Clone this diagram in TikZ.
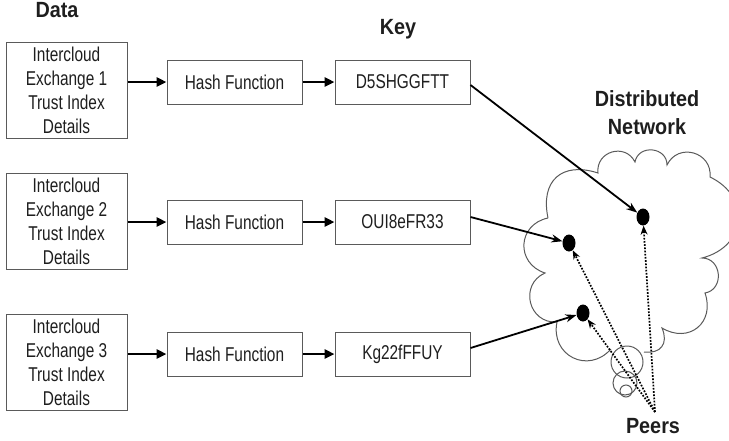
\documentclass[tikz,border=0pt]{standalone}
\usepackage{fontspec}
\setmainfont{Liberation Sans}
\newfontfamily\bodyf[FakeStretch=0.77]{Liberation Sans}
\newfontfamily\titlef[FakeStretch=0.9]{Liberation Sans}
\usetikzlibrary{arrows.meta,shapes.geometric}
\definecolor{boxgray}{HTML}{5A5A5A}
\definecolor{txt}{HTML}{1E1E1E}
\begin{document}
\begin{tikzpicture}[x=1pt,y=-1pt,
  box/.style={draw=boxgray, line width=1pt, rectangle, inner sep=0pt, align=center,
    text=txt, font=\bodyf\fontsize{20}{24}\selectfont},
  databox/.style={box, minimum width=121pt, minimum height=96pt},
  smallbox/.style={box, minimum width=135pt, minimum height=44pt},
  title/.style={text=txt, inner sep=0pt, font=\titlef\bfseries\fontsize{22}{26}\selectfont, anchor=base},
  arr/.style={-{Triangle[length=10pt,width=9pt]}, line width=2.6pt, black},
  darr/.style={-{Stealth[length=11pt,width=8pt]}, line width=1.8pt, black},
  dotarr/.style={-{Stealth[length=9pt,width=7pt]}, line width=1.7pt, black, dash pattern=on 1.7pt off 1.5pt},
  peer/.style={ellipse, fill=black, minimum width=13pt, minimum height=17pt, inner sep=0pt},
  cloudline/.style={draw=boxgray, line width=1pt},
  bump/.style={bend left=#1, looseness=1.45}
]
\useasboundingbox (0,0) rectangle (729,440);

% titles
\node[title] (tdata) at (57,17) {Data};
\node[title] (tkey) at (398,34) {Key};
\node[title] (tdist) at (647,106) {Distributed};
\node[title] (tnet) at (647,134) {Network};
\node[title] (peers) at (653,433) {Peers};

% cloud
\draw[cloudline] (548,218) to[bump=60] (598,173) to[bump=80] (635,162)
  to[bump=85] (667,165) to[bump=80] (710,177) to[bump=70] (702,258)
  to[bump=85] (705,293) to[bump=70] (662,328) to[bump=60] (644,352)
  (611,349) to[bump=75] (557,322) to[bump=80] (545,273) to[bump=75] (548,218);
\draw[cloudline] (627,362) circle (16);
\draw[cloudline] (625,383) circle (12);
\draw[cloudline] (626,391) circle (6);

% boxes
\node[databox] (d1) at (66.5,90) {Intercloud\\Exchange 1\\Trust Index\\Details};
\node[databox] (d2) at (66.5,221.5) {Intercloud\\Exchange 2\\Trust Index\\Details};
\node[databox] (d3) at (66.5,362.5) {Intercloud\\Exchange 3\\Trust Index\\Details};
\node[smallbox] (h1) at (234.5,82) {Hash Function};
\node[smallbox] (h2) at (234.5,222) {Hash Function};
\node[smallbox] (h3) at (234.5,354) {Hash Function};
\node[smallbox] (k1) at (402.5,82) {D5SHGGFTT};
\node[smallbox] (k2) at (402.5,222) {OUI8eFR33};
\node[smallbox] (k3) at (402.5,354) {Kg22fFFUY};

% peers dots
\node[peer] (pa) at (643,217) {};
\node[peer] (pb) at (569,243) {};
\node[peer] (pc) at (583,313) {};
\coordinate (src) at (655,412);

% arrows
\draw[arr] (d1.east |- h1.west) -- (h1.west);
\draw[arr] (d2.east |- h2.west) -- (h2.west);
\draw[arr] (d3.east |- h3.west) -- (h3.west);
\draw[arr] (h1.east) -- (k1.west);
\draw[arr] (h2.east) -- (k2.west);
\draw[arr] (h3.east) -- (k3.west);
\draw[darr] ([yshift=-3pt]k1.east) -- (pa);
\draw[darr] ([yshift=5pt]k2.east) -- (pb);
\draw[darr] ([yshift=6pt]k3.east) -- (pc);
\draw[dotarr] (src) -- (pa);
\draw[dotarr] (src) -- (pb);
\draw[dotarr] (src) -- (pc);
\end{tikzpicture}
\end{document}
